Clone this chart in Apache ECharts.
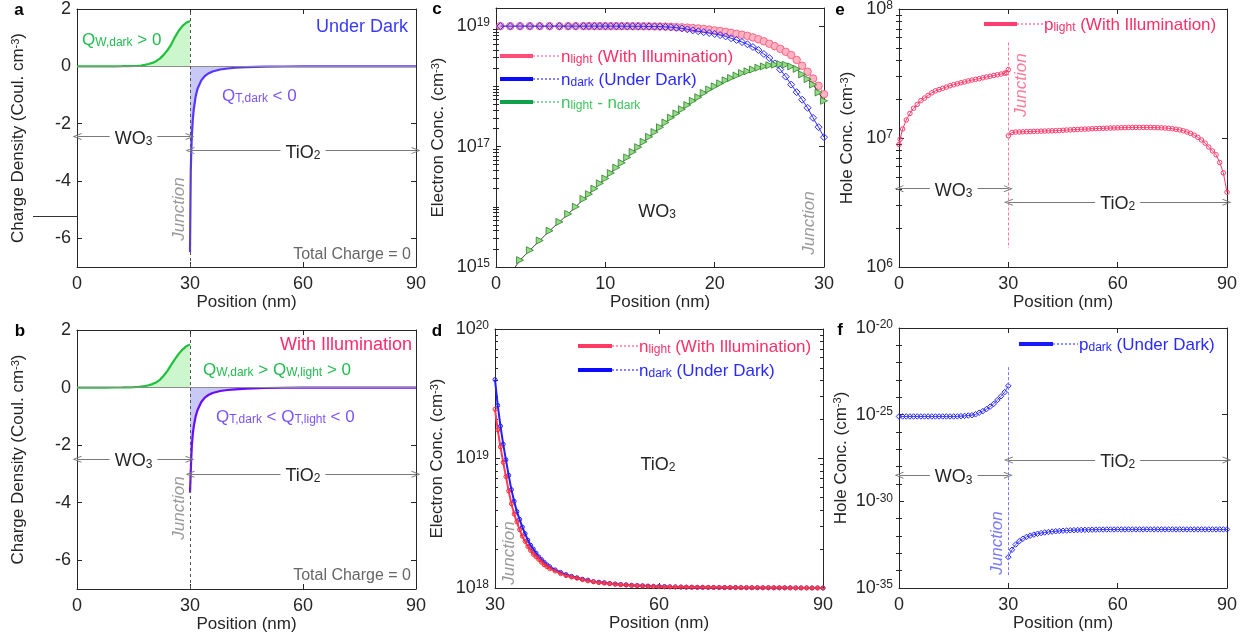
<!DOCTYPE html>
<html>
<head>
<meta charset="utf-8">
<title>Charge density and carrier concentration</title>
<script src="https://cdn.jsdelivr.net/npm/echarts@6.0.0/dist/echarts.min.js"></script>
<style>
  html, body { margin: 0; padding: 0; background: #fff; }
  #chart { width: 1250px; height: 641px; }
</style>
</head>
<body>
<div id="chart"></div>
<script>
const FONT = '"Liberation Sans", Arial, sans-serif';
const AX = '#262626';

// ---- tick labels
const ticks090 = [0, 30, 60, 90];
const ticksC = [0, 10, 20, 30];
const ticksD = [30, 60, 90];
const ticksQ = [-6, -4, -2, 0, 2];
const ticksElecC = [1e15, 1e17, 1e19];
const ticksElecD = [1e18, 1e19, 1e20];
const ticksHoleE = [1e6, 1e7, 1e8];
const ticksHoleF = [1e-35, 1e-30, 1e-25, 1e-20];

// ---- a, b: charge density (Coul. cm^-3)
const posQW = [0, 4, 8, 10, 12, 14, 15, 16, 17, 18, 19, 20, 21, 22, 23, 24, 25, 26, 27, 28, 29, 30];
const qwDark = [0, 0, 0.001, 0.002, 0.004, 0.008, 0.012, 0.02, 0.03, 0.05, 0.08, 0.12, 0.18, 0.27, 0.4, 0.56, 0.76, 1.02, 1.24, 1.41, 1.52, 1.58];
const qwLight = [0, 0, 0.001, 0.002, 0.004, 0.008, 0.012, 0.02, 0.03, 0.05, 0.08, 0.12, 0.18, 0.27, 0.41, 0.58, 0.79, 0.99, 1.17, 1.32, 1.43, 1.5];
const posQT = [30, 30.1, 30.2, 30.35, 30.5, 30.75, 31, 31.5, 32, 33, 34, 35, 36, 38, 40, 42, 45, 50, 55, 60, 70, 80, 90];
const qtDark = [-6.48, -5.0, -3.7, -2.9, -2.4, -1.85, -1.5, -1.05, -0.78, -0.49, -0.33, -0.24, -0.18, -0.11, -0.075, -0.05, -0.03, -0.013, -0.006, -0.003, -0.001, 0, 0];
const qtLight = [-3.65, -3.3, -2.9, -2.4, -2.0, -1.6, -1.35, -1.0, -0.78, -0.5, -0.34, -0.25, -0.19, -0.12, -0.085, -0.06, -0.035, -0.015, -0.007, -0.003, -0.001, 0, 0];

// ---- c: electron conc. in WO3 (cm^-3)
const posC = [0.4, 1.3, 2.2, 3.1, 4.0, 4.9, 5.8, 6.6, 7.3, 8, 8.5, 9, 9.5, 10, 10.5, 11, 11.5, 12, 12.5, 13, 13.5, 14, 14.5, 15, 15.5, 16, 16.5, 17, 17.5, 18, 18.5, 19, 19.5, 20, 20.5, 21, 21.5, 22, 22.5, 23, 23.5, 24, 24.5, 25, 25.5, 26, 26.5, 27, 27.5, 28, 28.5, 29, 29.5, 30];
const nLightC = [1e19, 1e19, 1e19, 1e19, 1e19, 1e19, 1e19, 1e19, 1e19,
  1e19, 1e19, 1e19, 1e19, 1e19, 9.99e18, 9.99e18, 9.985e18, 9.98e18, 9.97e18, 9.96e18, 9.95e18, 9.93e18, 9.9e18, 9.87e18,
  9.82e18, 9.75e18, 9.65e18, 9.55e18, 9.45e18, 9.3e18, 9.15e18, 8.95e18, 8.75e18, 8.5e18, 8.3e18, 8.05e18, 7.75e18, 7.45e18,
  7.2e18, 6.9e18, 6.5e18, 6.05e18, 5.6e18, 5.1e18, 4.65e18, 4.2e18, 3.75e18, 3.31e18, 2.75e18, 2.2e18, 1.75e18, 1.35e18, 1.02e18, 7.4e17];
const nDarkC = [1e19, 1e19, 1e19, 1e19, 1e19, 1e19, 1e19, 1e19, 1e19,
  1e19, 1e19, 1e19, 1e19, 1e19, 9.99e18, 9.99e18, 9.98e18, 9.97e18, 9.96e18, 9.94e18, 9.92e18, 9.9e18, 9.86e18, 9.8e18,
  9.7e18, 9.6e18, 9.4e18, 9.15e18, 8.85e18, 8.5e18, 8.2e18, 7.95e18, 7.7e18, 7.4e18, 7.1e18, 6.75e18, 6.3e18, 5.9e18,
  5.45e18, 5.0e18, 4.5e18, 4.0e18, 3.45e18, 2.95e18, 2.4e18, 1.9e18, 1.45e18, 1.07e18, 8.0e17, 6.0e17, 4.4e17, 3.0e17, 2.1e17, 1.43e17];
const nDiffC = [5.2e14, 7.6e14, 1.3e15, 1.9e15, 2.75e15, 4.0e15, 5.6e15, 7.6e15, 1.0e16,
  1.35e16, 1.62e16, 2.0e16, 2.45e16, 2.95e16, 3.63e16, 4.47e16, 5.37e16, 6.6e16, 8.13e16, 9.77e16, 1.2e17, 1.45e17, 1.74e17, 2.09e17,
  2.51e17, 3.02e17, 3.55e17, 4.17e17, 4.9e17, 5.75e17, 6.6e17, 7.76e17, 8.9e17, 1.0e18, 1.12e18, 1.26e18, 1.38e18, 1.51e18,
  1.66e18, 1.78e18, 1.9e18, 2.04e18, 2.14e18, 2.24e18, 2.29e18, 2.34e18, 2.29e18, 2.14e18, 1.95e18, 1.58e18, 1.32e18, 1.07e18, 7.9e17, 5.75e17];

// ---- d: electron conc. in TiO2 (cm^-3)
const posD = [30, 30.5, 31, 31.5, 32, 32.5, 33, 33.5, 34, 34.5, 35, 35.5, 36, 36.5, 37, 37.5, 38, 38.5, 39, 39.5,
  40, 41, 42, 43, 44, 45, 46, 47, 48, 49, 50, 51, 52, 53, 54, 55, 56, 57, 58, 59, 60, 61, 62, 63, 64, 65, 66, 67, 68, 69, 70,
  71, 72, 73, 74, 75, 76, 77, 78, 79, 80, 81, 82, 83, 84, 85, 86, 87, 88, 89, 90];
const nDarkD = [4.07e19, 2.57e19, 1.78e19, 1.29e19, 9.77e18, 7.41e18, 5.75e18, 4.68e18, 3.89e18, 3.39e18, 2.95e18, 2.63e18, 2.34e18, 2.14e18, 2.0e18, 1.86e18, 1.74e18, 1.66e18, 1.58e18, 1.51e18,
  1.46e18, 1.38e18, 1.32e18, 1.27e18, 1.23e18, 1.2e18, 1.17e18, 1.15e18, 1.12e18, 1.11e18, 1.1e18, 1.085e18, 1.075e18, 1.065e18, 1.06e18, 1.05e18, 1.045e18, 1.04e18, 1.035e18, 1.03e18, 1.028e18,
  1.025e18, 1.022e18, 1.02e18, 1.018e18, 1.016e18, 1.015e18, 1.013e18, 1.012e18, 1.011e18, 1.01e18, 1.009e18, 1.008e18, 1.007e18, 1.007e18, 1.006e18, 1.006e18, 1.005e18, 1.005e18, 1.004e18, 1.004e18,
  1.004e18, 1.003e18, 1.003e18, 1.003e18, 1.002e18, 1.002e18, 1.002e18, 1.001e18, 1.001e18, 1.0e18];
const nLightD = [2.4e19, 1.66e19, 1.23e19, 9.33e18, 7.24e18, 5.62e18, 4.47e18, 3.72e18, 3.24e18, 2.82e18, 2.51e18, 2.29e18, 2.09e18, 1.95e18, 1.82e18, 1.74e18, 1.66e18, 1.58e18, 1.51e18, 1.46e18,
  1.41e18, 1.35e18, 1.29e18, 1.245e18, 1.215e18, 1.19e18, 1.16e18, 1.135e18, 1.117e18, 1.1e18, 1.09e18, 1.078e18, 1.068e18, 1.06e18, 1.053e18, 1.047e18, 1.041e18, 1.036e18, 1.032e18, 1.028e18, 1.025e18,
  1.022e18, 1.02e18, 1.018e18, 1.016e18, 1.014e18, 1.013e18, 1.012e18, 1.011e18, 1.01e18, 1.009e18, 1.008e18, 1.007e18, 1.007e18, 1.006e18, 1.006e18, 1.005e18, 1.005e18, 1.004e18, 1.004e18, 1.004e18,
  1.003e18, 1.003e18, 1.003e18, 1.002e18, 1.002e18, 1.002e18, 1.001e18, 1.001e18, 1.001e18, 1.0e18];

// ---- e, f: hole conc. (cm^-3)
const posWO3 = [0, 0.3, 1, 2, 3, 4, 5, 6, 7, 8, 9, 10, 11, 12, 13, 14, 15, 16, 17, 18, 19, 20, 21, 22, 23, 24, 25, 26, 27, 28, 29, 29.5, 30];
const posTiO2 = [30, 31, 32, 33, 34, 35, 36, 37, 38, 39, 40, 41, 42, 43, 44, 45, 46, 47, 48, 49, 50, 51, 52, 53, 54, 55, 56, 57, 58, 59, 60,
  61, 62, 63, 64, 65, 66, 67, 68, 69, 70, 71, 72, 73, 74, 75, 76, 77, 78, 79, 80, 81, 82, 83, 84, 85, 86, 87, 88, 89, 90];
const pLightW = [8.91e6, 9.77e6, 1.175e7, 1.38e7, 1.55e7, 1.7e7, 1.82e7, 1.95e7, 2.04e7, 2.14e7, 2.24e7, 2.32e7, 2.37e7, 2.43e7, 2.48e7, 2.54e7,
  2.59e7, 2.63e7, 2.68e7, 2.72e7, 2.77e7, 2.81e7, 2.85e7, 2.88e7, 2.93e7, 2.97e7, 3.01e7, 3.05e7, 3.09e7, 3.13e7, 3.18e7, 3.2e7, 3.39e7];
const pLightT = [1.04e7, 1.104e7, 1.112e7, 1.114e7, 1.117e7, 1.119e7, 1.122e7, 1.125e7, 1.127e7, 1.13e7, 1.132e7,
  1.135e7, 1.138e7, 1.14e7, 1.143e7, 1.148e7, 1.153e7, 1.156e7, 1.161e7, 1.164e7, 1.169e7,
  1.172e7, 1.175e7, 1.18e7, 1.183e7, 1.186e7, 1.189e7, 1.191e7, 1.194e7, 1.197e7, 1.2e7,
  1.202e7, 1.202e7, 1.205e7, 1.205e7, 1.208e7, 1.208e7, 1.208e7, 1.208e7, 1.208e7, 1.205e7,
  1.202e7, 1.2e7, 1.194e7, 1.189e7, 1.18e7, 1.169e7, 1.156e7, 1.138e7, 1.114e7, 1.086e7,
  1.052e7, 1.012e7, 9.66e6, 9.12e6, 8.51e6, 7.94e6, 7.41e6, 6.46e6, 5.37e6, 3.8e6];
const posWO3f = [0, 1, 2, 3, 4, 5, 6, 7, 8, 9, 10, 11, 12, 13, 14, 15, 16, 17, 18, 19, 20, 21, 22, 23, 24, 25, 26, 27, 28, 29, 30];
const pDarkW = [7.9e-26, 7.9e-26, 7.9e-26, 7.9e-26, 7.9e-26, 7.9e-26, 7.9e-26, 7.9e-26, 7.9e-26, 7.9e-26, 7.9e-26, 7.9e-26, 7.9e-26, 7.9e-26, 7.9e-26, 7.9e-26,
  8.0e-26, 8.2e-26, 8.5e-26, 8.9e-26, 9.3e-26, 1.05e-25, 1.3e-25, 1.6e-25, 2.1e-25, 2.9e-25, 4.2e-25, 7.0e-25, 1.15e-24, 2.0e-24, 4.6e-24];
const pDarkT = [6.0e-34, 1.6e-33, 3.2e-33, 5.0e-33, 7.0e-33, 8.9e-33, 1.05e-32, 1.2e-32, 1.35e-32, 1.48e-32, 1.6e-32,
  1.7e-32, 1.8e-32, 1.88e-32, 1.95e-32, 2.02e-32, 2.08e-32, 2.13e-32, 2.17e-32, 2.21e-32, 2.24e-32,
  2.27e-32, 2.29e-32, 2.31e-32, 2.33e-32, 2.35e-32, 2.36e-32, 2.37e-32, 2.38e-32, 2.38e-32, 2.39e-32,
  2.39e-32, 2.39e-32, 2.4e-32, 2.4e-32, 2.4e-32, 2.4e-32, 2.4e-32, 2.4e-32, 2.4e-32, 2.4e-32,
  2.4e-32, 2.4e-32, 2.4e-32, 2.4e-32, 2.4e-32, 2.4e-32, 2.4e-32, 2.4e-32, 2.4e-32, 2.4e-32,
  2.4e-32, 2.4e-32, 2.4e-32, 2.4e-32, 2.4e-32, 2.4e-32, 2.4e-32, 2.4e-32, 2.4e-32, 2.4e-32];

// minor ticks of the log axes (2..9 per decade)
function minorLog(lo, hi) {
  const out = [];
  for (let e = lo; e < hi; e++) {
    for (let k = 2; k < 10; k++) out.push(k * Math.pow(10, e));
  }
  return out;
}

const chart = echarts.init(document.getElementById('chart'));

const grids = [], xAxes = [], yAxes = [], yMain = [], series = [];

function axisLine() { return {show: true, onZero: false, lineStyle: {color: AX, width: 1}}; }
function tickRich() {
  return {
    b: {fontFamily: FONT, fontSize: 18, lineHeight: 18, verticalAlign: 'bottom', color: AX},
    s: {fontFamily: FONT, fontSize: 12, lineHeight: 12, verticalAlign: 'top', padding: [0, 0, 10, 0], color: AX}
  };
}
function nameRich() {
  return {
    n: {fontFamily: FONT, fontSize: 17, lineHeight: 17, verticalAlign: 'bottom', color: AX},
    sup: {fontFamily: FONT, fontSize: 11, lineHeight: 11, verticalAlign: 'top', padding: [0, 0, 8, 0], color: AX}
  };
}
function powLabel(v) {
  return '{b|10}{s|' + Math.round(Math.log10(v)) + '}';
}

function addPanel(box, xs, ys) {
  const g = grids.length;
  grids.push(Object.assign({containLabel: false}, box));
  const xBase = {gridIndex: g, type: 'value', min: xs.min, max: xs.max, splitLine: {show: false}, axisLine: axisLine()};
  xAxes.push(Object.assign({}, xBase, {
    position: 'bottom',
    name: 'Position (nm)', nameLocation: 'middle', nameGap: 27,
    nameTextStyle: {fontFamily: FONT, fontSize: 17, color: AX},
    axisTick: {inside: true, length: 5, customValues: xs.ticks, lineStyle: {color: AX}},
    axisLabel: {customValues: xs.ticks, fontFamily: FONT, fontSize: 18, color: AX, margin: 8}
  }));
  xAxes.push(Object.assign({}, xBase, {
    position: 'top',
    axisTick: {inside: true, length: 5, customValues: xs.ticks, lineStyle: {color: AX}},
    axisLabel: {show: false}
  }));
  const yBase = {gridIndex: g, type: ys.type, min: ys.min, max: ys.max, splitLine: {show: false}, axisLine: axisLine()};
  if (ys.type === 'log') yBase.logBase = 10;
  yMain.push(yAxes.length);
  yAxes.push(Object.assign({}, yBase, {
    position: 'left',
    name: ys.name, nameLocation: 'middle', nameGap: ys.nameGap,
    nameTextStyle: {rich: nameRich()},
    axisTick: {inside: true, length: 5, customValues: ys.ticks, lineStyle: {color: AX}},
    axisLabel: {customValues: ys.ticks, margin: ys.margin, fontFamily: FONT, fontSize: 18, color: AX,
      formatter: ys.type === 'log' ? powLabel : '{value}', rich: tickRich()}
  }));
  yAxes.push(Object.assign({}, yBase, {
    position: 'right',
    axisTick: {inside: true, length: 5, customValues: ys.ticks, lineStyle: {color: AX}},
    axisLabel: {show: false}
  }));
  if (ys.minor) {
    ['left', 'right'].forEach(function (p) {
      yAxes.push(Object.assign({}, yBase, {
        position: p, axisLine: {show: false},
        axisTick: {inside: true, length: 3, customValues: ys.minor, lineStyle: {color: AX}},
        axisLabel: {show: false}
      }));
    });
  }
  return g;
}

const chargeName = '{n|Charge Density (Coul. cm}{sup|-3}{n|)}';
const elecName = '{n|Electron Conc. (cm}{sup|-3}{n|)}';
const holeName = '{n|Hole Conc. (cm}{sup|-3}{n|)}';

const A = addPanel({left: 77, top: 8, width: 339, height: 259},
  {min: 0, max: 90, ticks: ticks090},
  {type: 'value', min: -7, max: 2, ticks: ticksQ, name: chargeName, nameGap: 50, margin: 6});
const B = addPanel({left: 77, top: 330, width: 339, height: 259},
  {min: 0, max: 90, ticks: ticks090},
  {type: 'value', min: -7, max: 2, ticks: ticksQ, name: chargeName, nameGap: 50, margin: 6});
const C = addPanel({left: 496, top: 8, width: 328, height: 259},
  {min: 0, max: 30, ticks: ticksC},
  {type: 'log', min: 1e15, max: 2e19, ticks: ticksElecC, minor: minorLog(15, 19).concat([1e16, 1e18]), name: elecName, nameGap: 49, margin: 6});
const D = addPanel({left: 495, top: 329, width: 328, height: 259},
  {min: 30, max: 90, ticks: ticksD},
  {type: 'log', min: 1e18, max: 1e20, ticks: ticksElecD, minor: minorLog(18, 20), name: elecName, nameGap: 49, margin: 6});
const E = addPanel({left: 899, top: 7, width: 328, height: 260},
  {min: 0, max: 90, ticks: ticks090},
  {type: 'log', min: 1e6, max: 1e8, ticks: ticksHoleE, minor: minorLog(6, 8), name: holeName, nameGap: 43, margin: 6});
const F = addPanel({left: 899, top: 328, width: 328, height: 260},
  {min: 0, max: 90, ticks: ticks090},
  {type: 'log', min: 1e-35, max: 1e-20, ticks: ticksHoleF,
   minor: [1e-34, 1e-33, 1e-32, 1e-31, 1e-29, 1e-28, 1e-27, 1e-26, 1e-24, 1e-23, 1e-22, 1e-21], name: holeName, nameGap: 43, margin: 6});

function ser(g, xs, ys, opt) {
  const s = Object.assign({
    type: 'line', xAxisIndex: 2 * g, yAxisIndex: yMain[g],
    data: xs.map(function (x, i) { return [x, ys[i]]; }),
    symbol: 'none', silent: true, animation: false, z: 3
  }, opt);
  series.push(s);
  return s;
}

const ARROW = 'path://M0,10 L5,0 L10,10 L8.6,10 L5,2.8 L1.4,10 Z';
function arrowPair(x0, x1, y, text) {
  return [
    {coord: [x0, y], name: text, symbol: ARROW, symbolSize: [7, 9],
     lineStyle: {color: '#7a7a7a', width: 1, type: 'solid'},
     label: {show: true, position: 'middle', distance: -11, formatter: '{b}', backgroundColor: '#fff', padding: [0, 5],
       rich: {
         n: {fontFamily: FONT, fontSize: 18, lineHeight: 18, verticalAlign: 'top', color: '#262626'},
         sub: {fontFamily: FONT, fontSize: 12, lineHeight: 12, verticalAlign: 'bottom', padding: [8, 0, 0, 0], color: '#262626'}
       }}},
    {coord: [x1, y], symbol: ARROW, symbolSize: [7, 9]}
  ];
}
function vline(x, y0, y1, color) {
  return [
    {coord: [x, y0], symbol: 'none', lineStyle: {color: color, width: 1, type: [3, 2]}, label: {show: false}},
    {coord: [x, y1], symbol: 'none'}
  ];
}

// a
ser(A, posQW, qwDark, {
  lineStyle: {color: '#1fc13c', width: 2.2}, areaStyle: {color: '#ccf6cc', opacity: 1},
  markLine: {silent: true, animation: false, symbol: 'none', data: [
    {yAxis: 0, lineStyle: {color: '#8c8c8c', width: 1, type: 'solid'}, label: {show: false}},
    {xAxis: 30, lineStyle: {color: '#555', width: 1, type: [3, 3]}, label: {show: false}},
    arrowPair(0, 30, -2.45, '{n|WO}{sub|3}'),
    arrowPair(30, 90, -2.94, '{n|TiO}{sub|2}')
  ]}
});
ser(A, posQT, qtDark, {lineStyle: {color: '#5836ff', width: 2.2}, areaStyle: {color: '#c9c9f7', opacity: 1}, z: 4});

// b
ser(B, posQW, qwLight, {
  lineStyle: {color: '#1fc13c', width: 2.2}, areaStyle: {color: '#ccf6cc', opacity: 1},
  markLine: {silent: true, animation: false, symbol: 'none', data: [
    {yAxis: 0, lineStyle: {color: '#8c8c8c', width: 1, type: 'solid'}, label: {show: false}},
    {xAxis: 30, lineStyle: {color: '#555', width: 1, type: [3, 3]}, label: {show: false}},
    arrowPair(0, 30, -2.49, '{n|WO}{sub|3}'),
    arrowPair(30, 90, -3.01, '{n|TiO}{sub|2}')
  ]}
});
ser(B, posQT, qtLight, {lineStyle: {color: '#6a0cff', width: 2.2}, areaStyle: {color: '#c9c9f7', opacity: 1}, z: 4});

// c
ser(C, posC, nLightC, {symbol: 'circle', symbolSize: 7.5,
  itemStyle: {color: '#ffb4c4', borderColor: '#ff6687', borderWidth: 1}, lineStyle: {color: '#ff6687', width: 1}});
ser(C, posC, nDarkC, {symbol: 'diamond', symbolSize: 7,
  itemStyle: {color: 'rgba(255,255,255,0)', borderColor: '#2b2bff', borderWidth: 1}, lineStyle: {color: '#2b2bff', width: 1}, z: 4});
ser(C, posC, nDiffC, {symbol: 'triangle', symbolSize: 7, symbolRotate: -90,
  itemStyle: {color: '#92dd82', borderColor: '#2f7d2f', borderWidth: 0.8}, lineStyle: {color: '#111', width: 0.8}, z: 5});

// d
ser(D, posD, nDarkD, {symbol: 'circle', symbolSize: 4,
  itemStyle: {color: 'rgba(255,255,255,0)', borderColor: '#1f1fff', borderWidth: 1}, lineStyle: {color: '#1f1fff', width: 2}});
ser(D, posD, nLightD, {symbol: 'circle', symbolSize: 4,
  itemStyle: {color: 'rgba(255,255,255,0)', borderColor: '#ff2a2a', borderWidth: 1}, lineStyle: {color: '#ff3a5a', width: 2}, z: 4});

// e
const pinkE = '#ff3d6e';
ser(E, posWO3, pLightW, {symbol: 'circle', symbolSize: 4.5,
  itemStyle: {color: 'rgba(255,255,255,0)', borderColor: pinkE, borderWidth: 1}, lineStyle: {color: pinkE, width: 1},
  markLine: {silent: true, animation: false, symbol: 'none', data: [
    vline(30, 5.5e7, 1.4e6, '#ff7a9a'),
    arrowPair(0, 30, 4.05e6, '{n|WO}{sub|3}'),
    arrowPair(30, 90, 3.18e6, '{n|TiO}{sub|2}')
  ]}
});
ser(E, posTiO2, pLightT, {symbol: 'circle', symbolSize: 4.5,
  itemStyle: {color: 'rgba(255,255,255,0)', borderColor: pinkE, borderWidth: 1}, lineStyle: {color: pinkE, width: 1}});

// f
const blueF = '#2424ff';
ser(F, posWO3f, pDarkW, {symbol: 'diamond', symbolSize: 5.5,
  itemStyle: {color: 'rgba(255,255,255,0)', borderColor: blueF, borderWidth: 1}, lineStyle: {color: blueF, width: 0.8},
  markLine: {silent: true, animation: false, symbol: 'none', data: [
    vline(30, 5.5e-23, 5e-35, '#7a7aff'),
    arrowPair(0, 30, 3.2e-29, '{n|WO}{sub|3}'),
    arrowPair(30, 90, 2.4e-28, '{n|TiO}{sub|2}')
  ]}
});
ser(F, posTiO2, pDarkT, {symbol: 'diamond', symbolSize: 5.5,
  itemStyle: {color: 'rgba(255,255,255,0)', borderColor: blueF, borderWidth: 1}, lineStyle: {color: blueF, width: 0.8}});

// ---- annotations
function zRich(color, size) {
  return {
    n: {fill: color, fontFamily: FONT, fontSize: size, lineHeight: size, verticalAlign: 'top'},
    sub: {fill: color, fontFamily: FONT, fontSize: 12, lineHeight: 12, verticalAlign: 'bottom', padding: [8, 0, 0, 0]}
  };
}
function txt(x, y, text, color, o) {
  o = o || {};
  const size = o.size || 17;
  return {
    type: 'text', x: x, y: y, rotation: o.rot || 0, z: 50, silent: true,
    style: {
      text: text, fill: color, align: o.align || 'left', verticalAlign: 'middle',
      fontFamily: FONT, fontSize: size, fontStyle: o.italic ? 'italic' : 'normal', fontWeight: o.bold ? 'bold' : 'normal',
      rich: zRich(color, size)
    }
  };
}
function legendItem(x0, x1, x2, y, barColor, textColor, text) {
  return [
    {type: 'line', silent: true, z: 50, shape: {x1: x0, y1: y, x2: x1, y2: y}, style: {stroke: barColor, lineWidth: 4}},
    {type: 'line', silent: true, z: 50, shape: {x1: x1, y1: y, x2: x2, y2: y}, style: {stroke: barColor, lineWidth: 1, lineDash: [2, 2]}},
    txt(x2 + 1, y + 1.5, text, textColor)
  ];
}
const GREEN_T = '#22bb4f';
const VIOLET_T = '#7a52ff';
const JUNC = '#9a9a9a';
const graphics = [
  txt(19, 10, 'a', '#000', {bold: true, align: 'center'}),
  txt(20, 331, 'b', '#000', {bold: true, align: 'center'}),
  txt(437, 9, 'c', '#000', {bold: true, align: 'center'}),
  txt(437, 331, 'd', '#000', {bold: true, align: 'center'}),
  txt(840, 10, 'e', '#000', {bold: true, align: 'center'}),
  txt(840, 330, 'f', '#000', {bold: true, align: 'center'}),

  txt(82, 40, '{n|Q}{sub|W,dark}{n| > 0}', GREEN_T),
  txt(408, 27, 'Under Dark', '#3a3aff', {align: 'right', size: 18}),
  txt(222, 96, '{n|Q}{sub|T,dark}{n| < 0}', VIOLET_T),
  txt(411, 255, 'Total Charge = 0', '#666', {align: 'right', size: 16}),
  txt(179, 209, 'Junction', JUNC, {rot: Math.PI / 2, align: 'center', italic: true}),

  txt(412, 345, 'With Illumination', '#ff2a6a', {align: 'right', size: 18}),
  txt(203, 370, '{n|Q}{sub|W,dark}{n| > Q}{sub|W,light}{n| > 0}', GREEN_T),
  txt(216, 417, '{n|Q}{sub|T,dark}{n| < Q}{sub|T,light}{n| < 0}', VIOLET_T),
  txt(411, 576, 'Total Charge = 0', '#666', {align: 'right', size: 16}),
  txt(179, 508, 'Junction', JUNC, {rot: Math.PI / 2, align: 'center', italic: true}),

  txt(657, 212, '{n|WO}{sub|3}', '#262626', {align: 'center', size: 18}),
  txt(809, 223, 'Junction', JUNC, {rot: Math.PI / 2, align: 'center', italic: true}),

  txt(658, 465, '{n|TiO}{sub|2}', '#262626', {align: 'center', size: 18}),
  txt(509, 553, 'Junction', JUNC, {rot: Math.PI / 2, align: 'center', italic: true}),

  txt(1021, 85, 'Junction', '#ff7a9a', {rot: Math.PI / 2, align: 'center', italic: true}),
  txt(997, 543, 'Junction', '#7a7aff', {rot: Math.PI / 2, align: 'center', italic: true}),

  {type: 'line', silent: true, shape: {x1: 33, y1: 216.5, x2: 77, y2: 216.5}, style: {stroke: '#333', lineWidth: 1}}
].concat(
  legendItem(500, 533, 560, 56, '#ff4f78', '#ff2f66', '{n|n}{sub|light}{n| (With Illumination)}'),
  legendItem(500, 533, 560, 79, '#0a0aff', '#2a2aff', '{n|n}{sub|dark}{n| (Under Dark)}'),
  legendItem(500, 533, 560, 102, '#13a04a', '#3cc65c', '{n|n}{sub|light}{n| - n}{sub|dark}'),
  legendItem(578, 612, 638, 346, '#ff3b64', '#ff2f66', '{n|n}{sub|light}{n| (With Illumination)}'),
  legendItem(578, 612, 638, 370, '#0a0aff', '#2a2aff', '{n|n}{sub|dark}{n| (Under Dark)}'),
  legendItem(984, 1017, 1043, 24, pinkE, '#ff2f66', '{n|p}{sub|light}{n| (With Illumination)}'),
  legendItem(1019, 1053, 1078, 344, '#1a1aff', '#2a2aff', '{n|p}{sub|dark}{n| (Under Dark)}')
);

chart.setOption({
  backgroundColor: '#fff',
  animation: false,
  textStyle: {fontFamily: FONT},
  grid: grids,
  xAxis: xAxes,
  yAxis: yAxes,
  series: series,
  graphic: graphics
});
</script>
</body>
</html>
